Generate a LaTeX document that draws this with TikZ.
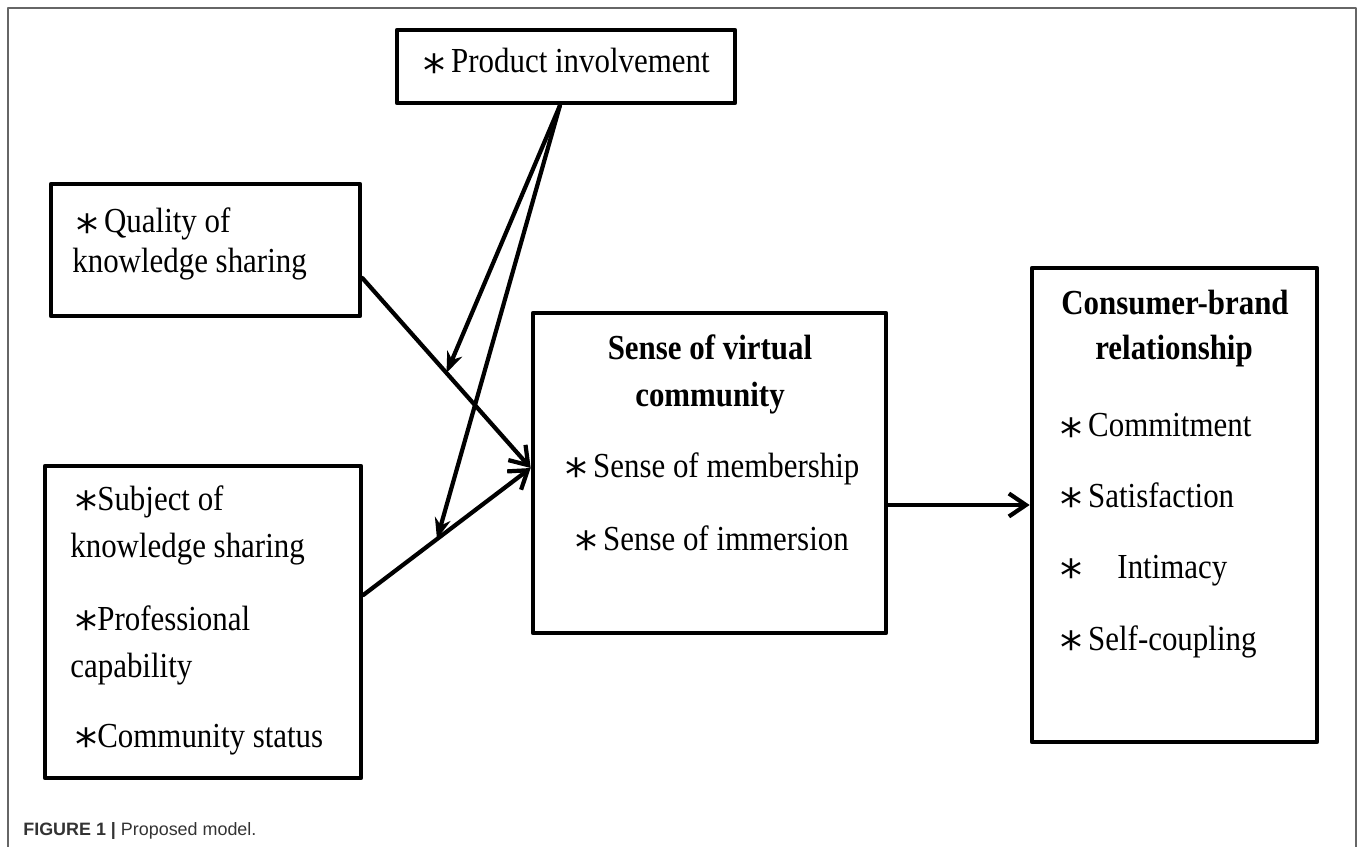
\documentclass[tikz,border=0pt]{standalone}
\usepackage{fontspec}
\setmainfont[FakeStretch=0.88]{Liberation Serif}
\newfontfamily\capfont{Liberation Sans}
\newfontfamily\starfont{DejaVu Sans}
\usetikzlibrary{arrows.meta,calc}
\newcommand{\itemmark}{\raisebox{0.5pt}{\scalebox{1.25}{\starfont\char"204E}}}
\begin{document}
\begin{tikzpicture}[x=0.02cm,y=-0.02cm,line cap=round,line join=round,
	box/.style={draw,line width=2.7pt,inner sep=0pt},
	txt/.style={inner sep=0pt,anchor=base west,font=\fontsize{20}{22}\selectfont},
	ttl/.style={inner sep=0pt,anchor=base,font=\fontsize{20}{22}\selectfont\bfseries},
	link/.style={line width=2.4pt,-{Straight Barb[length=0.34cm,width=0.46cm,line width=2.4pt]}},
	mod/.style={line width=2.4pt,-{Stealth[length=0.42cm,width=0.32cm]}}]
		\useasboundingbox (0,0) rectangle (1358,847);
		\draw[black!60,line width=1pt] (8,847)--(8,8)--(1356,8)--(1356,847);
		% boxes
		\node[box,minimum width=6.76cm,minimum height=1.46cm] (prod) at (566,66.5) {};
		\node[box,minimum width=6.18cm,minimum height=2.64cm] (qual) at (205.5,250) {};
		\node[box,minimum width=6.32cm,minimum height=6.24cm] (subj) at (203,622) {};
		\node[box,minimum width=7.06cm,minimum height=6.4cm] (svc) at (709.5,473) {};
		\node[box,minimum width=5.7cm,minimum height=9.48cm] (cbr) at (1174.5,505) {};
		% texts
		\node[txt] (prod1) at (423,73) {\itemmark\,Product involvement};
		\node[txt] (qual1) at (76,233) {\itemmark\,Quality of};
		\node[txt] (qual2) at (72,273) {knowledge sharing};
		\node[txt] (subj1) at (75,510) {\itemmark Subject of};
		\node[txt] (subj2) at (70,557) {knowledge sharing};
		\node[txt] (subj3) at (75,630) {\itemmark Professional};
		\node[txt] (subj4) at (70,677) {capability};
		\node[txt] (subj5) at (75,747) {\itemmark Community status};
		\node[ttl] (svc1) at (710,360) {Sense of virtual};
		\node[ttl] (svc2) at (710,407) {community};
		\node[txt] (svc3) at (565,477) {\itemmark\,Sense of membership};
		\node[txt] (svc4) at (575,550) {\itemmark\,Sense of immersion};
		\node[ttl] (cbr1) at (1175,315) {Consumer-brand};
		\node[ttl] (cbr2) at (1174,360) {relationship};
		\node[txt] (cbr3) at (1060,437) {\itemmark\,Commitment};
		\node[txt] (cbr4) at (1060,507) {\itemmark\,Satisfaction};
		\node[txt] (cbr5) at (1060,578) {\itemmark\quad Intimacy};
		\node[txt] (cbr6) at (1060,650) {\itemmark\,Self-coupling};
		% connectors
		\coordinate (qa) at ($(qual.east)+(0,28)$);
		\coordinate (sa) at ($(subj.east)+(0,-27)$);
		\coordinate (ca) at ($(svc.west)+(0,-5)$);
		\coordinate (pm) at ($(prod.south)+(-6,0)$);
		\draw[link] (qa) -- coordinate[pos=0.5] (m1) (ca);
		\draw[link] (sa) -- coordinate[pos=0.44] (m2) (ca);
		\draw[mod] (pm) -- (m1);
		\draw[mod] (pm) -- (m2);
		\draw[link] (svc.east |- cbr.west) -- (cbr.west);
		\node[anchor=base west,inner sep=0pt,text=black!80,font=\capfont\fontsize{10.2}{12}\selectfont] (cap) at (23,835) {\textbf{FIGURE 1 |} Proposed model.};
\end{tikzpicture}
\end{document}
